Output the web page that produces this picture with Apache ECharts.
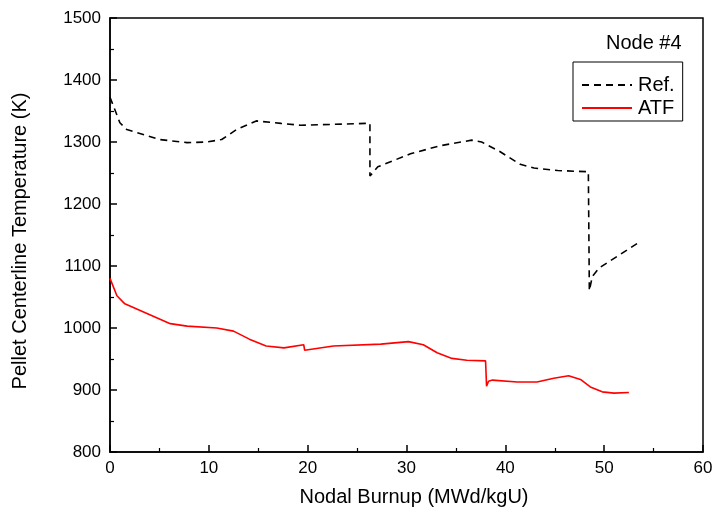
<!DOCTYPE html>
<html><head><meta charset="utf-8">
<script src="https://cdn.jsdelivr.net/npm/echarts@6/dist/echarts.min.js"></script>
<style>html,body{margin:0;padding:0;background:#fff}#c{width:713px;height:519px}</style>
</head><body><div id="c"></div>
<script>
const refX = [0.0, 0.3, 1.0, 1.7, 5.0, 7.8, 9.8, 11.3, 12.8, 14.8, 17.3, 19.3, 25.9, 26.3, 26.3, 27.1, 30.4, 33.4, 36.6, 37.6, 39.4, 41.5, 42.9, 45.3, 48.4, 48.5, 48.5, 48.8, 49.5, 53.7];
const refY = [1372, 1360, 1331, 1320, 1304, 1299, 1300, 1304, 1320, 1334, 1330, 1327, 1330, 1330, 1245, 1260, 1281, 1294, 1303, 1300, 1285, 1264, 1258, 1254, 1252, 1252, 1060, 1083, 1097, 1140];
const atfX = [0.0, 0.1, 0.7, 1.5, 6.1, 7.8, 10.8, 12.5, 14.1, 15.8, 17.6, 19.6, 19.7, 19.9, 22.6, 27.4, 30.2, 31.7, 33.1, 34.6, 36.1, 38.0, 38.1, 38.3, 38.7, 41.2, 43.2, 44.9, 46.4, 47.6, 48.6, 49.8, 51.0, 52.5];
const atfY = [1080, 1077, 1052, 1039, 1007, 1003, 1000, 995, 982, 971, 968, 973, 964, 967, 971, 974, 978, 973, 960, 951, 948, 947, 906, 914, 916, 913, 913, 919, 923, 917, 905, 897, 895, 896];
const seriesNames = ['Ref.', 'ATF'];
const nodeLabel = 'Node #4';
const xTitle = 'Nodal Burnup (MWd/kgU)';
const yTitle = 'Pellet Centerline Temperature (K)';

const zip = (xs, ys) => xs.map((x, i) => [x, ys[i]]);
const font = 'Liberation Sans, Arial, sans-serif';
const chart = echarts.init(document.getElementById('c'));
chart.setOption({
  animation: false,
  backgroundColor: '#fff',
  grid: { left: 110, right: 10, top: 18, bottom: 67, show: true, borderColor: '#000', borderWidth: 1.5,
          backgroundColor: 'transparent', outerBoundsMode: 'none', containLabel: false },
  xAxis: {
    type: 'value', min: 0, max: 60, interval: 10,
    axisLine: { show: true, onZero: false, lineStyle: { color: '#000', width: 1.5 } },
    axisTick: { show: true, inside: true, length: 7, lineStyle: { color: '#000', width: 1.5 } },
    minorTick: { show: true, splitNumber: 2, length: 4, lineStyle: { color: '#000', width: 1.2 } },
    axisLabel: { fontFamily: font, fontSize: 17, color: '#000', margin: 8, formatter: v => String(v) },
    splitLine: { show: false }
  },
  yAxis: {
    type: 'value', min: 800, max: 1500, interval: 100,
    axisLine: { show: true, onZero: false, lineStyle: { color: '#000', width: 1.5 } },
    axisTick: { show: true, inside: true, length: 7, lineStyle: { color: '#000', width: 1.5 } },
    minorTick: { show: true, splitNumber: 2, length: 4, lineStyle: { color: '#000', width: 1.2 } },
    axisLabel: { fontFamily: font, fontSize: 17, color: '#000', margin: 9, formatter: v => String(v) },
    splitLine: { show: false }
  },
  legend: {
    orient: 'vertical', left: 573, top: 62,
    data: seriesNames,
    itemWidth: 50, itemHeight: 14, itemGap: 3,
    padding: [13, 8, 3, 8],
    borderColor: '#000', borderWidth: 1,
    itemStyle: { opacity: 0 },
    textStyle: { fontFamily: font, fontSize: 20, lineHeight: 20, color: '#000', padding: [0, 0, 0, 1] }
  },
  graphic: [
    { type: 'text', left: 606, top: 33,
      style: { text: nodeLabel, font: '20px ' + font, fill: '#000' } },
    { type: 'text', x: 414, y: 497,
      style: { text: xTitle, font: '20px ' + font, fill: '#000', textAlign: 'center', textVerticalAlign: 'middle' } },
    { type: 'text', x: 20, y: 241, rotation: Math.PI / 2,
      style: { text: yTitle, font: '20px ' + font, fill: '#000', textAlign: 'center', textVerticalAlign: 'middle' } }
  ],
  series: [
    { name: seriesNames[0], type: 'line', data: zip(refX, refY), symbol: 'none', showSymbol: false,
      lineStyle: { color: '#000', width: 1.6, type: [7, 5] }, itemStyle: { color: '#000' } },
    { name: seriesNames[1], type: 'line', data: zip(atfX, atfY), symbol: 'none', showSymbol: false,
      lineStyle: { color: '#ff0000', width: 1.6 }, itemStyle: { color: '#ff0000' } }
  ]
});
</script></body></html>
